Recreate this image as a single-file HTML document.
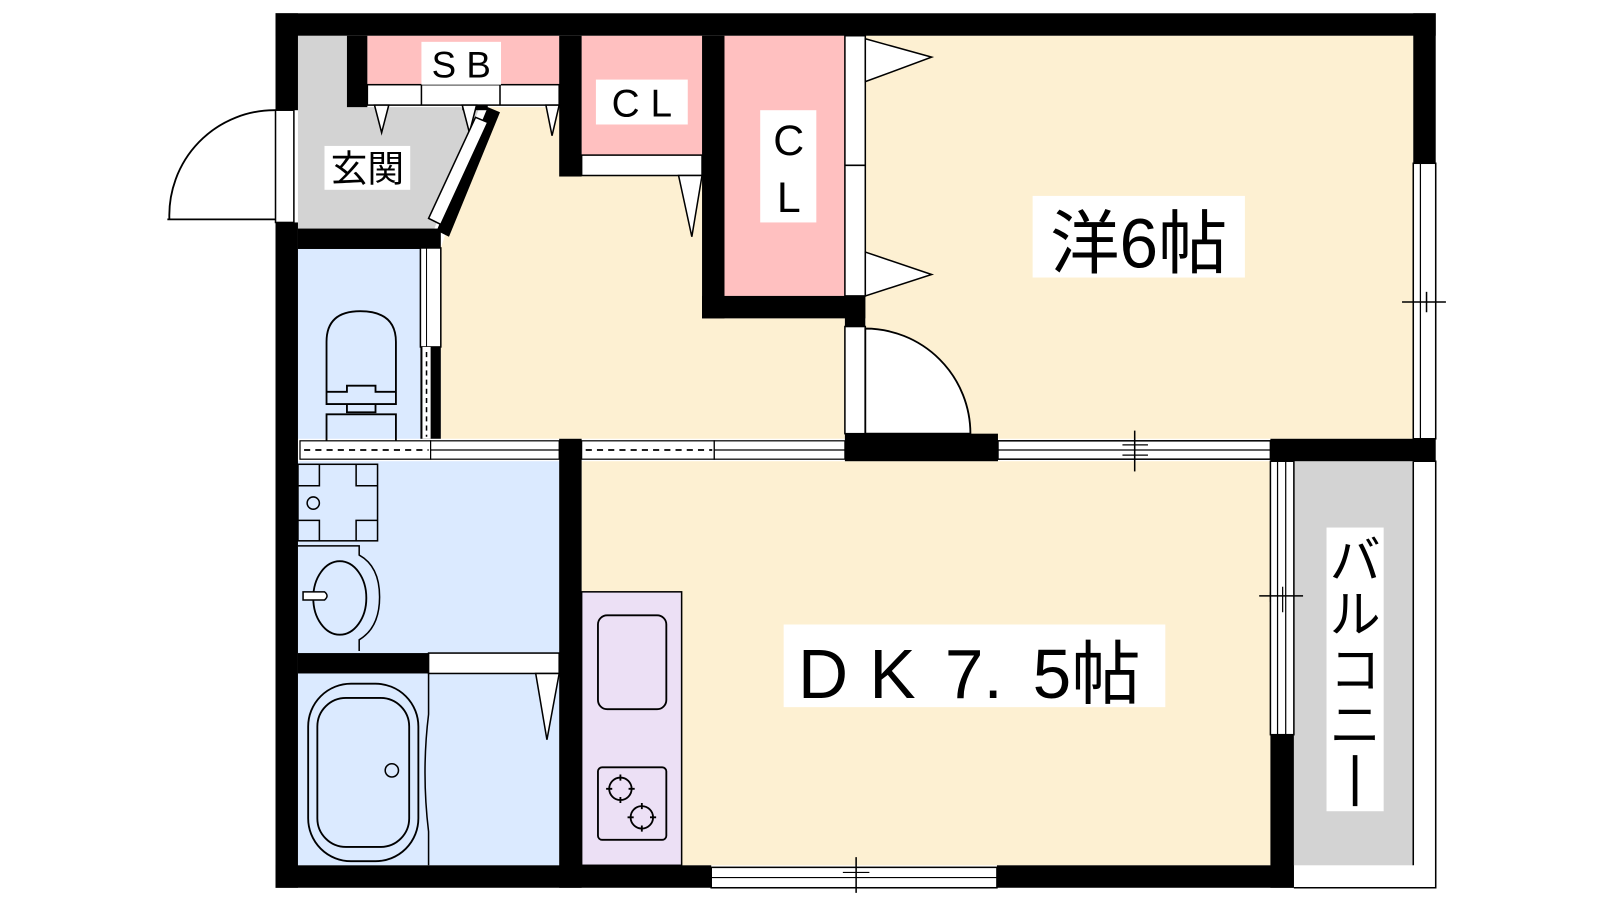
<!DOCTYPE html>
<html><head><meta charset="utf-8"><style>
html,body{margin:0;padding:0;background:#fff;}
svg{display:block;}
text{font-family:"Liberation Sans","Noto Sans CJK JP",sans-serif;fill:#000;}
</style></head><body>
<svg width="1600" height="900" viewBox="0 0 1568 882" preserveAspectRatio="none" xmlns="http://www.w3.org/2000/svg">
<rect width="1568" height="882" fill="#fff"/>
<!-- room fills -->
<polygon points="292,35 340,35 340,105 470,105 425,226 292,226" fill="#d3d3d3"/>
<polygon points="478,105 548,105 548,172 688,172 688,312 828,312 828,430 432,430 432,243" fill="#fdf0d2"/>
<rect x="848" y="35" width="537" height="395" fill="#fdf0d2"/>
<rect x="360" y="35" width="188" height="50" fill="#ffc0c0"/>
<rect x="570" y="35" width="118" height="118" fill="#ffc0c0"/>
<rect x="710" y="35" width="118" height="255" fill="#ffc0c0"/>
<rect x="292" y="243" width="120" height="187" fill="#dbeaff"/>
<rect x="292" y="452" width="256" height="396" fill="#dbeaff"/>
<rect x="570" y="452" width="675" height="396" fill="#fdf0d2"/>
<rect x="570" y="580" width="98" height="268" fill="#ece0f5" stroke="#000" stroke-width="1.5"/>
<rect x="1268" y="452" width="117" height="396" fill="#d3d3d3"/>
<polyline points="1385,452 1407,452 1407,870 1268,870" fill="none" stroke="#000" stroke-width="1.5"/>
<line x1="1385" y1="452" x2="1385" y2="848" stroke="#000" stroke-width="1.5"/>

<!-- walls -->
<g fill="#000">
<rect x="270" y="13" width="1137" height="22"/>
<rect x="270" y="13" width="22" height="95"/>
<rect x="270" y="218" width="22" height="652"/>
<rect x="340" y="35" width="20" height="70"/>
<rect x="453" y="83" width="25" height="25"/>
<polygon points="478,105 490,110 440,232 428,226"/>
<rect x="292" y="224" width="140" height="20"/>
<rect x="548" y="35" width="22" height="138"/>
<rect x="688" y="35" width="22" height="277"/>
<rect x="688" y="290" width="160" height="22"/>
<rect x="828" y="290" width="20" height="30"/>
<rect x="828" y="425" width="150" height="27"/>
<rect x="1245" y="430" width="162" height="22"/>
<rect x="1385" y="13" width="22" height="147"/>
<rect x="548" y="430" width="22" height="440"/>
<rect x="292" y="640" width="128" height="20"/>
<rect x="1245" y="720" width="23" height="150"/>
<rect x="270" y="848" width="427" height="22"/>
<rect x="977" y="848" width="291" height="22"/>
<rect x="412" y="340" width="20" height="90"/>
</g>

<!-- SB shelf -->
<rect x="360" y="83" width="188" height="20" fill="#fff" stroke="#000" stroke-width="1.5"/>
<line x1="413" y1="83" x2="413" y2="103" stroke="#000" stroke-width="1.5"/>
<line x1="490" y1="83" x2="490" y2="103" stroke="#000" stroke-width="1.5"/>
<polygon points="367,103 381,103 374,130" fill="#fff" stroke="#000" stroke-width="1.5"/>
<polygon points="453,103 467,103 460,130" fill="#fff" stroke="#000" stroke-width="1.5"/>
<polygon points="535,103 548,103 541,133" fill="#fff" stroke="#000" stroke-width="1.5"/>
<rect x="413" y="41" width="78" height="42" fill="#fff"/>
<text x="452" y="76" font-size="36" text-anchor="middle">S B</text>
<!-- diagonal door -->
<polygon points="466,115 478,120 432,220 420,214" fill="#fff" stroke="#000" stroke-width="1.5"/>
<!-- entrance door -->
<rect x="270" y="108" width="18" height="110" fill="#fff" stroke="#000" stroke-width="1.5"/>
<path d="M166,215 A103,103 0 0 1 270,108" fill="#fff" stroke="#000" stroke-width="1.8"/>
<line x1="164" y1="215" x2="270" y2="215" stroke="#000" stroke-width="1.8"/>
<rect x="318" y="143" width="84" height="43" fill="#fff"/>
<text x="360" y="178" font-size="36" text-anchor="middle">玄関</text>

<!-- CL1 -->
<rect x="570" y="152" width="118" height="20" fill="#fff" stroke="#000" stroke-width="1.5"/>
<polygon points="665,172 688,172 678,232" fill="#fff" stroke="#000" stroke-width="1.5"/>
<rect x="584" y="78" width="90" height="44" fill="#fff"/>
<text x="629" y="114" font-size="38" text-anchor="middle">C L</text>
<!-- CL2 -->
<rect x="745" y="108" width="55" height="110" fill="#fff"/>
<text x="773" y="152" font-size="42" text-anchor="middle">C</text>
<text x="773" y="208" font-size="42" text-anchor="middle">L</text>
<rect x="828" y="35" width="20" height="255" fill="#fff" stroke="#000" stroke-width="1.5"/>
<line x1="828" y1="162" x2="848" y2="162" stroke="#000" stroke-width="1.5"/>
<polygon points="848,38 913,56 848,80" fill="#fff" stroke="#000" stroke-width="1.5"/>
<polygon points="848,247 913,269 848,290" fill="#fff" stroke="#000" stroke-width="1.5"/>
<!-- 洋室 door -->
<rect x="828" y="320" width="20" height="105" fill="#fff" stroke="#000" stroke-width="1.5"/>
<path d="M848,322 A103,103 0 0 1 951,425 L848,425 Z" fill="#fff" stroke="#000" stroke-width="1.8"/>
<!-- 洋6帖 label -->
<rect x="1012" y="192" width="208" height="80" fill="#fff"/>
<text x="1116" y="262" font-size="68" text-anchor="middle">洋6帖</text>
<!-- right window -->
<rect x="1385" y="160" width="22" height="270" fill="#fff" stroke="#000" stroke-width="1.5"/>
<line x1="1392" y1="160" x2="1392" y2="430" stroke="#000" stroke-width="1.2"/>
<line x1="1374" y1="296" x2="1417" y2="296" stroke="#000" stroke-width="1.5"/>
<line x1="1398" y1="286" x2="1398" y2="306" stroke="#000" stroke-width="1.5"/>
<!-- middle window -->
<rect x="978" y="432" width="267" height="18" fill="#fff" stroke="#000" stroke-width="1.5"/>
<line x1="978" y1="441" x2="1245" y2="441" stroke="#000" stroke-width="1.2"/>
<line x1="1112" y1="422" x2="1112" y2="462" stroke="#000" stroke-width="1.5"/>
<line x1="1100" y1="436" x2="1125" y2="436" stroke="#000" stroke-width="1.2"/>
<line x1="1100" y1="446" x2="1125" y2="446" stroke="#000" stroke-width="1.2"/>

<!-- toilet -->
<rect x="412" y="243" width="20" height="97" fill="#fff" stroke="#000" stroke-width="1.5"/>
<line x1="418" y1="243" x2="418" y2="340" stroke="#000" stroke-width="1"/>
<rect x="414" y="340" width="8" height="90" fill="#fff"/>
<line x1="418" y1="345" x2="418" y2="428" stroke="#000" stroke-width="1.5" stroke-dasharray="5,4"/>
<path d="M320,396 L320,335 Q320,305 353,305 Q388,305 388,335 L388,396 Z" fill="none" stroke="#000" stroke-width="1.8"/>
<path d="M320,384 L340,384 L340,378 L368,378 L368,384 L388,384 M340,396 L340,404 L368,404 L368,396 M320,432 L320,406 L388,406 L388,432" fill="none" stroke="#000" stroke-width="1.8"/>
<!-- top partition -->
<rect x="294" y="432" width="128" height="18" fill="#fff" stroke="#000" stroke-width="1.2"/>
<line x1="298" y1="441" x2="420" y2="441" stroke="#000" stroke-width="1.8" stroke-dasharray="6,5"/>
<rect x="422" y="432" width="126" height="18" fill="#fff" stroke="#000" stroke-width="1.2"/>
<line x1="422" y1="441" x2="548" y2="441" stroke="#000" stroke-width="1.2"/>
<rect x="570" y="432" width="130" height="18" fill="#fff" stroke="#000" stroke-width="1.2"/>
<line x1="574" y1="441" x2="698" y2="441" stroke="#000" stroke-width="1.8" stroke-dasharray="6,5"/>
<rect x="700" y="432" width="128" height="18" fill="#fff" stroke="#000" stroke-width="1.2"/>
<line x1="700" y1="441" x2="828" y2="441" stroke="#000" stroke-width="1.2"/>

<!-- washing pan -->
<g fill="none" stroke="#000" stroke-width="1.5">
<rect x="292" y="455" width="78" height="75"/>
<path d="M292,476 L313,476 L313,455 M349,455 L349,476 L370,476 M292,510 L313,510 L313,530 M349,530 L349,510 L370,510"/>
</g>
<circle cx="307" cy="493" r="6" fill="none" stroke="#000" stroke-width="1.5"/>
<!-- sink -->
<path d="M292,535 L352,535 L352,544 Q372,555 372,585 Q372,615 352,627 L352,638" fill="none" stroke="#000" stroke-width="1.5"/>
<ellipse cx="333" cy="586" rx="26" ry="36" fill="none" stroke="#000" stroke-width="1.8"/>
<path d="M297,580 L318,580 Q323,584 318,588 L297,588 Z" fill="#fff" stroke="#000" stroke-width="1.5"/>
<!-- bath door -->
<rect x="420" y="640" width="128" height="20" fill="#fff" stroke="#000" stroke-width="1.5"/>
<polygon points="525,660 548,660 536,725" fill="#fff" stroke="#000" stroke-width="1.5"/>
<!-- bath -->
<path d="M420,660 L420,700 Q413,757 420,815 L420,848" fill="none" stroke="#000" stroke-width="1.5"/>
<rect x="302" y="670" width="108" height="174" rx="42" fill="none" stroke="#000" stroke-width="1.8"/>
<rect x="311" y="684" width="90" height="146" rx="28" fill="none" stroke="#000" stroke-width="1.8"/>
<circle cx="384" cy="755" r="6.5" fill="none" stroke="#000" stroke-width="1.5"/>

<!-- kitchen -->
<rect x="586" y="603" width="67" height="92" rx="9" fill="none" stroke="#000" stroke-width="1.8"/>
<rect x="586" y="752" width="67" height="71" rx="4" fill="none" stroke="#000" stroke-width="1.8"/>
<g fill="none" stroke="#000" stroke-width="1.8">
<circle cx="608" cy="773" r="11"/><circle cx="629" cy="801" r="11"/>
<path d="M594,773 h6 M616,773 h6 M608,759 v6 M608,781 v6 M615,801 h6 M637,801 h6 M629,787 v6 M629,809 v6"/>
</g>
<!-- DK label -->
<rect x="768" y="612" width="374" height="81" fill="#fff"/>
<text x="782" y="684" font-size="68">D</text>
<text x="852" y="684" font-size="68">K</text>
<text x="926" y="684" font-size="68">7.</text>
<text x="1012" y="684" font-size="68">5帖</text>
<!-- bottom window -->
<rect x="697" y="850" width="280" height="20" fill="#fff" stroke="#000" stroke-width="1.5"/>
<line x1="697" y1="860" x2="977" y2="860" stroke="#000" stroke-width="1.2"/>
<line x1="839" y1="840" x2="839" y2="875" stroke="#000" stroke-width="1.5"/>
<line x1="826" y1="855" x2="852" y2="855" stroke="#000" stroke-width="1.2"/>
<!-- DK right window -->
<rect x="1245" y="452" width="23" height="268" fill="#fff" stroke="#000" stroke-width="1.5"/>
<line x1="1252" y1="452" x2="1252" y2="720" stroke="#000" stroke-width="1.2"/>
<line x1="1260" y1="452" x2="1260" y2="720" stroke="#000" stroke-width="1.2"/>
<line x1="1234" y1="584" x2="1277" y2="584" stroke="#000" stroke-width="1.5"/>
<line x1="1257" y1="575" x2="1257" y2="600" stroke="#000" stroke-width="1.2"/>
<line x1="1245" y1="580" x2="1245" y2="590" stroke="#000" stroke-width="1.2"/>
<!-- balcony label -->
<rect x="1300" y="517" width="56" height="278" fill="#fff"/>
<text x="1328" y="567" font-size="50" text-anchor="middle">バ</text>
<text x="1328" y="620" font-size="50" text-anchor="middle">ル</text>
<text x="1328" y="674" font-size="50" text-anchor="middle">コ</text>
<text x="1328" y="728" font-size="50" text-anchor="middle">ニ</text>
<line x1="1328" y1="740" x2="1328" y2="790" stroke="#000" stroke-width="4.5"/>
</svg>
</body></html>
